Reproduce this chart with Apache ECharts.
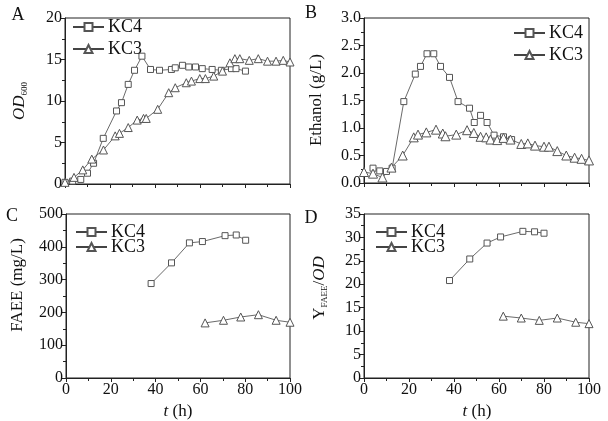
<!DOCTYPE html>
<html><head><meta charset="utf-8">
<script src="https://cdn.jsdelivr.net/npm/echarts@6/dist/echarts.min.js"></script>
<style>html,body{margin:0;padding:0;background:#fff}#c{width:608px;height:421px}</style>
</head><body><div id="c"></div>
<script>
// ---- data ----
const seriesNames = ['KC4', 'KC3'];
const xTicks = [0, 20, 40, 60, 80, 100];

const tA_KC4 = [0, 3.4, 7, 10, 12.7, 17, 22.9, 25.1, 28.1, 30.9, 34.2, 38, 42, 47.3, 49, 52.2, 55, 58, 61, 65.4, 69.5, 74, 76, 80.2];
const odKC4 = [0.2, 0.35, 0.55, 1.3, 2.5, 5.5, 8.8, 9.8, 12.0, 13.7, 15.4, 13.8, 13.7, 13.8, 14.0, 14.3, 14.1, 14.1, 13.9, 13.8, 13.7, 13.9, 13.9, 13.6];
const tA_KC3 = [0, 4, 7.9, 11.9, 17.1, 22.3, 24.2, 28.1, 32.1, 34.9, 36.1, 41.2, 46.1, 49, 53.9, 56.2, 59.9, 62.4, 66.1, 70, 73.3, 75.5, 77.7, 81.9, 85.9, 90, 93.8, 97, 100];
const odKC3 = [0.2, 0.8, 1.7, 3.0, 4.1, 5.8, 6.1, 6.8, 7.7, 7.9, 7.9, 9.0, 11.0, 11.6, 12.2, 12.4, 12.7, 12.7, 13.0, 13.6, 14.6, 15.1, 15.1, 14.9, 15.1, 14.8, 14.8, 14.9, 14.7];

const tB_KC4 = [4, 7, 10, 12.5, 17.7, 22.8, 25.1, 28, 31, 34, 38, 41.8, 46.9, 49, 51.8, 54.7, 57.8, 62, 65.6];
const ethKC4 = [0.27, 0.22, 0.21, 0.27, 1.48, 1.98, 2.12, 2.35, 2.35, 2.12, 1.92, 1.48, 1.36, 1.10, 1.23, 1.10, 0.87, 0.84, 0.79];
const tB_KC3 = [0, 4, 8.2, 12.2, 17.2, 22.1, 24, 27.7, 32, 35, 36.2, 41, 45.8, 48.8, 51.8, 54.3, 56.2, 59.2, 62, 65.1, 69.9, 72.8, 76, 80, 82.2, 85.9, 89.9, 93.6, 96.7, 100];
const ethKC3 = [0.2, 0.17, 0.1, 0.28, 0.5, 0.83, 0.88, 0.92, 0.97, 0.9, 0.85, 0.88, 0.96, 0.91, 0.84, 0.83, 0.79, 0.78, 0.82, 0.79, 0.71, 0.72, 0.68, 0.66, 0.66, 0.58, 0.5, 0.46, 0.44, 0.41];

const tC_KC4 = [38, 47.1, 55.1, 60.9, 71, 76, 80.2];
const faeeKC4 = [288, 351, 412, 416, 434, 436, 420];
const tC_KC3 = [62.1, 70.3, 78, 85.9, 93.8, 100];
const faeeKC3 = [168, 176, 186, 193, 176, 170];

const tD_KC4 = [38, 47, 54.7, 60.7, 70.6, 75.8, 80];
const yieldKC4 = [20.8, 25.4, 28.8, 30.1, 31.3, 31.2, 30.9];
const tD_KC3 = [61.9, 69.9, 77.9, 85.9, 94.1, 100];
const yieldKC3 = [13.2, 12.8, 12.3, 12.8, 11.9, 11.6];

// ---- build ----
const FONT = 'Liberation Serif';
const zip = (a, b) => a.map((x, i) => [x, b[i]]);
const grids = [
  {left: 65, top: 18, width: 225, height: 166},
  {left: 364, top: 18, width: 225, height: 165},
  {left: 66, top: 214, width: 224, height: 164},
  {left: 364, top: 214, width: 225, height: 164}
];
const yCfg = [
  {min: 0, max: 20, interval: 5, fmt: v => v},
  {min: 0, max: 3, interval: 0.5, fmt: v => v.toFixed(1)},
  {min: 0, max: 500, interval: 100, fmt: v => v},
  {min: 0, max: 35, interval: 5, fmt: v => v}
];
const axisLineStyle = {color: '#222', width: 1};
const xAxis = grids.map((g, i) => ({
  type: 'value', gridIndex: i, min: 0, max: 100, interval: 20,
  axisLine: {show: true, onZero: false, lineStyle: axisLineStyle},
  axisTick: {show: true, length: 4, lineStyle: axisLineStyle},
  minorTick: {show: true, splitNumber: 2, length: 3, lineStyle: axisLineStyle},
  splitLine: {show: false},
  axisLabel: {show: i >= 2, color: '#111', fontFamily: FONT, fontSize: 16, margin: 4,
    formatter: v => xTicks.includes(v) ? String(v) : ''}
}));
const yAxis = yCfg.map((c, i) => ({
  type: 'value', gridIndex: i, min: c.min, max: c.max, interval: c.interval,
  axisLine: {show: true, lineStyle: axisLineStyle},
  axisTick: {show: true, length: 4, lineStyle: axisLineStyle},
  minorTick: {show: true, splitNumber: 2, length: 3, lineStyle: axisLineStyle},
  splitLine: {show: false},
  axisLabel: {color: '#111', fontFamily: FONT, fontSize: 16, margin: 3, formatter: c.fmt}
}));
const lineStyle = {color: '#444', width: 0.8};
const mk = (name, i, data) => ({
  name, type: 'line', xAxisIndex: i, yAxisIndex: i, data,
  symbol: name === 'KC4' ? 'rect' : 'triangle',
  symbolSize: name === 'KC4' ? 6 : (i === 1 ? 9 : 8),
  clip: false,
  itemStyle: {color: '#fff', borderColor: '#555', borderWidth: 1},
  lineStyle, emphasis: {disabled: true}
});
const series = [
  mk('KC4', 0, zip(tA_KC4, odKC4)), mk('KC3', 0, zip(tA_KC3, odKC3)),
  mk('KC4', 1, zip(tB_KC4, ethKC4)), mk('KC3', 1, zip(tB_KC3, ethKC3)),
  mk('KC4', 2, zip(tC_KC4, faeeKC4)), mk('KC3', 2, zip(tC_KC3, faeeKC3)),
  mk('KC4', 3, zip(tD_KC4, yieldKC4)), mk('KC3', 3, zip(tD_KC3, yieldKC3))
];
const legendPos = [
  {left: 72, top: 18, gap: 4},
  {left: 513, top: 24, gap: 4},
  {left: 75, top: 223, gap: -3},
  {left: 375, top: 223, gap: -3}
];
const legend = legendPos.map(p => ({
  data: seriesNames, left: p.left, top: p.top, orient: 'vertical',
  itemWidth: 31, itemHeight: 10, itemGap: p.gap, padding: 0,
  selectedMode: false,
  textStyle: {fontFamily: FONT, fontSize: 18, color: '#111', padding: [0, 0, 0, -1]}
}));
const txt = (x, y, text, size, rot, rich) => ({
  type: 'text', x, y, rotation: rot || 0,
  style: {text, fontFamily: FONT, fontSize: size, fill: '#111', align: 'center', verticalAlign: 'middle', rich: rich || undefined}
});
const rich = {
  it: {fontFamily: FONT, fontSize: 17, fontStyle: 'italic', fill: '#111'},
  n: {fontFamily: FONT, fontSize: 17, fill: '#111'},
  sub: {fontFamily: FONT, fontSize: 9, fill: '#111', padding: [9, 0, 0, 0]}
};
const graphic = [
  txt(18, 15, 'A', 18), txt(311, 13, 'B', 18), txt(12, 216, 'C', 18), txt(311, 218, 'D', 18),
  txt(20, 101, '{it|OD}{sub|600}', 17, Math.PI / 2, rich),
  txt(317, 100, 'Ethanol (g/L)', 17, Math.PI / 2),
  txt(18, 285, 'FAEE (mg/L)', 17, Math.PI / 2),
  txt(320, 288, '{n|Y}{sub|FAEE}{n|/}{it|OD}', 17, Math.PI / 2, rich),
  txt(178, 412, '{it|t}{n| (h)}', 17, 0, rich),
  txt(477, 412, '{it|t}{n| (h)}', 17, 0, rich)
];
const chart = echarts.init(document.getElementById('c'), null, {renderer: 'canvas'});
chart.setOption({
  animation: false,
  backgroundColor: '#fff',
  grid: grids.map(g => Object.assign({show: true, borderColor: '#222', borderWidth: 1, backgroundColor: 'transparent'}, g)),
  xAxis, yAxis, series, legend, graphic
});
</script></body></html>
